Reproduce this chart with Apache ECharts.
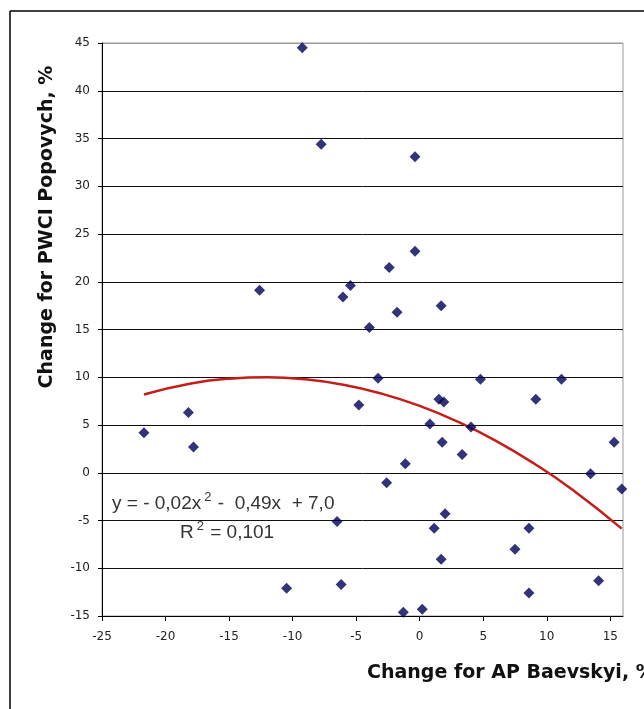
<!DOCTYPE html>
<html>
<head>
<meta charset="utf-8">
<script src="https://cdn.jsdelivr.net/npm/echarts@6/dist/echarts.min.js"></script>
<style>
html,body{margin:0;padding:0;background:#fff;}
#chart{width:644px;height:709px;}
</style>
</head>
<body>
<div id="chart"></div>
<script>
// AP Baevskyi change (%) per subject
const apChange = [-9.24, -7.75, -0.37, -0.37, -2.4, -12.6, -5.45, -6.04, -1.78, 1.69,
  -3.96, -3.28, -4.79, 1.51, 1.9, 0.8, 1.77, -1.13, -2.6, -6.5,
  2.0, 1.14, 1.69, -10.47, -6.18, -1.29, 0.2, -21.7, -18.2, -17.8,
  4.78, 11.16, 9.14, 4.04, 15.3, 3.34, 13.45, 15.9, 8.6, 7.5, 14.08, 8.6];
// PWCI Popovych change (%) per subject
const pwciChange = [44.5, 34.4, 33.1, 23.2, 21.5, 19.1, 19.6, 18.4, 16.8, 17.5,
  15.2, 9.9, 7.1, 7.7, 7.4, 5.1, 3.2, 0.93, -1.06, -5.1,
  -4.3, -5.8, -9.06, -12.1, -11.7, -14.6, -14.3, 4.2, 6.3, 2.7,
  9.8, 9.8, 7.7, 4.8, 3.2, 1.9, -0.1, -1.7, -5.8, -8.0, -11.3, -12.6];
// Polynomial trend line
const trendX = [-21.7, -18, -15, -12, -9, -6, -3, 0, 3, 6, 9, 12, 15.9];
const trendY = [8.2, 9.34, 9.85, 10.0, 9.79, 9.22, 8.29, 7.0, 5.35, 3.34, 0.97, -1.76, -5.85];
// Tick labels
const xTicks = [-25, -20, -15, -10, -5, 0, 5, 10, 15];
const yTicks = [-15, -10, -5, 0, 5, 10, 15, 20, 25, 30, 35, 40, 45];

const xTitle = 'Change for AP Baevskyi, %';
const yTitle = 'Change for PWCI Popovych, %';
const eqText = '{t|y = - 0,02x}{s|2}{t| -  0,49x  + 7,0}';
const r2Text = '{t|R}{s|2}{t| = 0,101}';

const scatterData = apChange.map((x, i) => [x, pwciChange[i]]);
const trendData = trendX.map((x, i) => [x, trendY[i]]);
const splitColors = yTicks.map((v, i) => i === yTicks.length - 1 ? '#9a9a9a' : '#111');

const richStyle = {
  t: {fontFamily: 'Liberation Sans', fontSize: 19, fill: '#333', lineHeight: 22, verticalAlign: 'bottom'},
  s: {fontFamily: 'Liberation Sans', fontSize: 13, fill: '#333', lineHeight: 22, verticalAlign: 'top', padding: [0, 1, 0, 3]}
};

const chart = echarts.init(document.getElementById('chart'));
chart.setOption({
  animation: false,
  backgroundColor: '#fff',
  grid: {
    left: 102, top: 43, width: 521, height: 573,
    show: true, borderColor: '#9a9a9a', borderWidth: 1, backgroundColor: 'transparent'
  },
  xAxis: {
    type: 'value', min: -25, max: 16, interval: 5,
    axisLine: {show: true, onZero: false, lineStyle: {color: '#000', width: 1}},
    axisTick: {show: true, length: 5, customValues: xTicks, lineStyle: {color: '#000'}},
    axisLabel: {customValues: xTicks, margin: 15, color: '#222', fontFamily: 'DejaVu Sans', fontSize: 12},
    splitLine: {show: false}
  },
  yAxis: {
    type: 'value', min: -15, max: 45, interval: 5,
    axisLine: {show: true, onZero: false, lineStyle: {color: '#000', width: 1}},
    axisTick: {show: true, length: 4, lineStyle: {color: '#000'}},
    axisLabel: {margin: 12, color: '#222', fontFamily: 'DejaVu Sans', fontSize: 12},
    splitLine: {show: true, lineStyle: {color: splitColors, width: 1}}
  },
  series: [
    {
      type: 'line', data: trendData, smooth: true, showSymbol: false, silent: true,
      lineStyle: {color: '#c41e1a', width: 2.5}, z: 2
    },
    {
      type: 'scatter', data: scatterData, symbol: 'diamond', symbolSize: 11,
      itemStyle: {color: '#000058'}, z: 3
    }
  ],
  graphic: [
    {type: 'line', shape: {x1: 10, y1: 11, x2: 644, y2: 11}, style: {stroke: '#000', lineWidth: 1.5}},
    {type: 'line', shape: {x1: 10, y1: 11, x2: 10, y2: 709}, style: {stroke: '#000', lineWidth: 1.5}},
    {type: 'text', x: 47, y: 227, rotation: Math.PI / 2,
      style: {text: yTitle, font: 'bold 19px "DejaVu Sans"', fill: '#111', align: 'center', verticalAlign: 'middle'}},
    {type: 'text', x: 367, y: 673,
      style: {text: xTitle, font: 'bold 19px "DejaVu Sans"', fill: '#111', align: 'left', verticalAlign: 'middle'}},
    {type: 'text', x: 112, y: 502,
      style: {text: eqText, rich: richStyle, align: 'left', verticalAlign: 'middle'}},
    {type: 'text', x: 180, y: 531,
      style: {text: r2Text, rich: richStyle, align: 'left', verticalAlign: 'middle'}}
  ]
});
</script>
</body>
</html>
